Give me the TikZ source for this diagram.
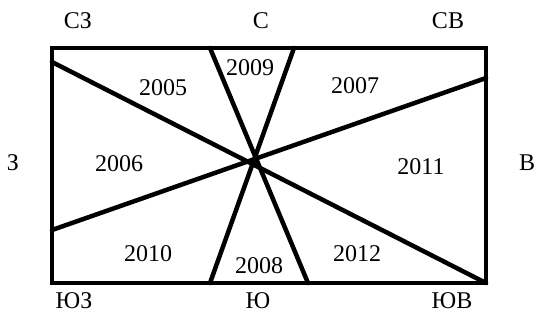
\documentclass[tikz,border=0pt]{standalone}
\usepackage{fontspec}
\setmainfont{Liberation Serif}
\begin{document}
\begin{tikzpicture}[x=1pt,y=-1pt,
  lbl/.style={font=\fontsize{24}{27}\selectfont, inner sep=0pt},
  edge/.style={line width=4.5pt, line cap=round, line join=miter}]
\useasboundingbox (0,0) rectangle (536,322);
\coordinate (tl) at (52,48);
\coordinate (tr) at (486,48);
\coordinate (br) at (486,283);
\coordinate (bl) at (52,283);
\coordinate (l1) at (52,62);
\coordinate (l2) at (52,230);
\coordinate (r2) at (486,78);
\coordinate (t1) at (210,48);
\coordinate (b1) at (308,283);
\coordinate (t2) at (294,48);
\coordinate (b2) at (210,283);
\draw[edge] (l1) -- (br);
\draw[edge] (l2) -- (r2);
\draw[edge] (t1) -- (b1);
\draw[edge] (t2) -- (b2);
\draw[edge] (tl) -- (tr) -- (br) -- (bl) -- cycle;
\node[lbl] (nw) at (78,21) {СЗ};
\node[lbl] (n) at (261,21) {С};
\node[lbl] (ne) at (448,21) {СВ};
\node[lbl] (w) at (13,163) {З};
\node[lbl] (e) at (527,163) {В};
\node[lbl] (sw) at (74,301) {ЮЗ};
\node[lbl] (s) at (258,301) {Ю};
\node[lbl] (se) at (452,301) {ЮВ};
\node[lbl] (y2005) at (163,88) {2005};
\node[lbl] (y2009) at (250,68) {2009};
\node[lbl] (y2007) at (355,86) {2007};
\node[lbl] (y2006) at (119,164) {2006};
\node[lbl] (y2011) at (421,167) {2011};
\node[lbl] (y2010) at (148,254) {2010};
\node[lbl] (y2008) at (259,266) {2008};
\node[lbl] (y2012) at (357,254) {2012};
\end{tikzpicture}
\end{document}
